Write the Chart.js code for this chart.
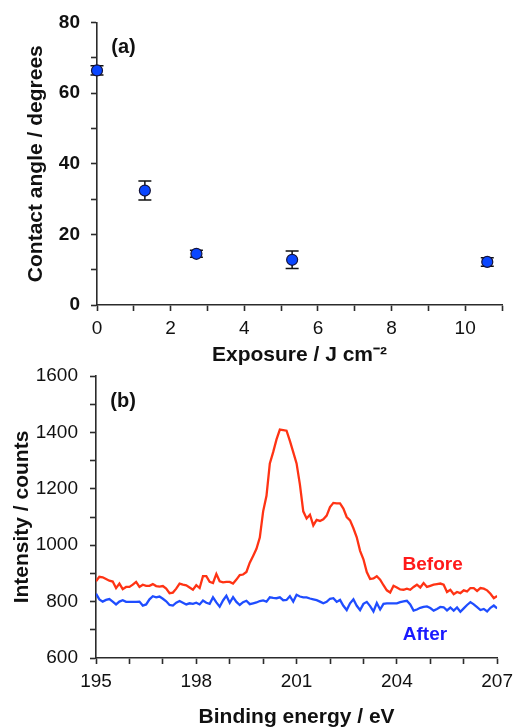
<!DOCTYPE html>
<html>
<head>
<meta charset="utf-8">
<script src="https://cdn.jsdelivr.net/npm/chart.js@4.4.1/dist/chart.umd.min.js"></script>
<style>
    html, body { margin: 0; padding: 0; background: #fff; }
    body { width: 519px; height: 728px; position: relative; overflow: hidden; }
    .panel { position: absolute; left: 0; width: 519px; }
    #panelA { top: 0; height: 370px; }
    #panelB { top: 350px; height: 378px; }
</style>
</head>
<body>
<div class="panel" id="panelA"><canvas id="angleChart"></canvas></div>
<div class="panel" id="panelB"><canvas id="xpsChart"></canvas></div>
<script>
// (a) contact angle after exposure
const exposure = [0, 1.3, 2.7, 5.3, 10.6];
const contactAngle = [66.4, 32.4, 14.5, 12.8, 12.2];
const angleError = [1.3, 2.7, 1.0, 2.5, 1.2];
const exposureLabels = [0, 2, 4, 6, 8, 10];
const angleLabels = [0, 20, 40, 60, 80];

// (b) XPS spectra, 195.0 - 207.0 eV every 0.1 eV
const energyStart = 195;
const energyStep = 0.1;
const countsBefore = [
    872, 888, 886, 880, 874, 871, 848, 864, 844, 852,
    852, 860, 870, 852, 860, 856, 856, 862, 855, 853,
    855, 846, 830, 832, 846, 864, 860, 858, 850, 842,
    858, 848, 890, 890, 870, 866, 898, 872, 868, 870,
    870, 864, 878, 894, 896, 905, 938, 962, 987, 1027,
    1120, 1175, 1290, 1330, 1375, 1410, 1408, 1406, 1370, 1330,
    1290, 1215, 1120, 1095, 1108, 1070, 1090, 1086, 1092, 1105,
    1135, 1150, 1148, 1148, 1130, 1100, 1088, 1060, 1028, 980,
    950, 905, 880, 882, 890, 878, 858, 840, 832, 856,
    850, 843, 842, 846, 842, 852, 860, 850, 866, 852,
    856, 860, 862, 864, 860, 834, 842, 826, 834, 830,
    840, 836, 848, 848, 838, 848, 846, 840, 828, 812,
    820
];
const countsAfter = [
    828, 808, 800, 806, 809, 800, 790, 800, 805, 799,
    799, 799, 799, 800, 786, 790, 808, 819, 815, 818,
    810, 801, 788, 786, 796, 802, 796, 790, 794, 792,
    796, 790, 804, 796, 792, 815, 797, 782, 804, 821,
    796, 816, 799, 788, 798, 803, 791, 794, 797, 802,
    804, 800, 815, 813, 812, 815, 805, 806, 819, 800,
    824, 818, 815, 815, 811, 808, 805, 800, 794, 799,
    810, 812, 799, 806, 785, 770, 794, 808, 785, 770,
    792, 799, 784, 765, 795, 772, 792, 794, 794, 794,
    794, 798, 801, 803, 790, 768, 772, 778, 781, 783,
    777, 768, 774, 781, 780, 769, 779, 768, 779, 764,
    776, 788, 798, 790, 780, 770, 774, 765, 778, 786,
    776
];
const energyLabels = [195, 198, 201, 204, 207];
const countLabels = [600, 800, 1000, 1200, 1400, 1600];

const FONT = '"Liberation Sans", Arial, sans-serif';
const INK = '#111';
const AXIS = '#2b2b2b';

// vertical error bars with caps, drawn under the markers
const errorBarPlugin = {
    id: 'errorBars',
    beforeDatasetsDraw(chart, args, opts) {
        const { ctx, scales: { x, y } } = chart;
        ctx.save();
        ctx.strokeStyle = opts.color;
        ctx.lineWidth = opts.width;
        exposure.forEach((e, i) => {
            const px = x.getPixelForValue(e);
            const top = y.getPixelForValue(contactAngle[i] + angleError[i]);
            const bot = y.getPixelForValue(contactAngle[i] - angleError[i]);
            ctx.beginPath();
            ctx.moveTo(px, top); ctx.lineTo(px, bot);
            ctx.moveTo(px - opts.cap, top); ctx.lineTo(px + opts.cap, top);
            ctx.moveTo(px - opts.cap, bot); ctx.lineTo(px + opts.cap, bot);
            ctx.stroke();
        });
        ctx.restore();
    }
};

// free text placed in data coordinates
const textPlugin = {
    id: 'panelText',
    afterDraw(chart, args, opts) {
        const { ctx, scales: { x, y } } = chart;
        ctx.save();
        ctx.textAlign = 'center';
        ctx.textBaseline = 'middle';
        opts.items.forEach(t => {
            ctx.font = 'bold ' + t.size + 'px ' + FONT;
            ctx.fillStyle = t.color;
            ctx.fillText(t.text, x.getPixelForValue(t.x), y.getPixelForValue(t.y));
        });
        ctx.restore();
    }
};

function axis(min, max, step, labels, opt) {
    return {
        type: 'linear',
        position: opt.position,
        min: min,
        max: max,
        border: { display: true, color: AXIS, width: 1.6 },
        grid: { drawOnChartArea: false, drawTicks: true, tickLength: 6, tickColor: AXIS, tickWidth: 1.6 },
        ticks: {
            stepSize: step,
            autoSkip: false,
            maxRotation: 0,
            padding: opt.pad,
            color: INK,
            font: { family: FONT, size: 19, weight: opt.bold ? 'bold' : 'normal' },
            callback: v => labels.includes(Math.round(v)) && Math.abs(v - Math.round(v)) < 1e-6 ? Math.round(v) : ''
        },
        title: {
            display: true,
            text: opt.title,
            color: INK,
            font: { family: FONT, size: 21, weight: 'bold', lineHeight: 1 },
            padding: opt.titlePad
        },
        afterFit: opt.fit
    };
}

document.addEventListener('DOMContentLoaded', () => {
    // Contact angle chart
    new Chart(document.getElementById('angleChart'), {
        type: 'scatter',
        data: {
            datasets: [{
                data: exposure.map((e, i) => ({ x: e, y: contactAngle[i] })),
                backgroundColor: '#0a46ff',
                borderColor: '#14143c',
                borderWidth: 1.2,
                pointRadius: 5.5,
                clip: false
            }]
        },
        options: {
            responsive: true,
            maintainAspectRatio: false,
            animation: false,
            layout: { padding: { top: 20, right: 17, left: 0, bottom: 0 } },
            scales: {
                x: axis(0, 11, 1, exposureLabels, {
                    position: 'bottom', pad: 6, title: 'Exposure / J cm\u207B\u00B2',
                    titlePad: { top: 0, bottom: 4.5 }, fit: s => { s.height = 65; }
                }),
                y: axis(0, 80, 10, angleLabels, {
                    position: 'left', pad: 11, bold: true, title: 'Contact angle / degrees',
                    titlePad: { top: 26, bottom: 0 }, fit: s => { s.width = 97; }
                })
            },
            plugins: {
                legend: { display: false },
                tooltip: { enabled: false },
                errorBars: { color: '#111', width: 1.5, cap: 6.5 },
                panelText: { items: [{ text: '(a)', x: 0.72, y: 73, size: 20, color: INK }] }
            }
        },
        plugins: [errorBarPlugin, textPlugin]
    });

    // XPS chart
    const toPoints = arr => arr.map((c, i) => ({ x: energyStart + i * energyStep, y: c }));
    new Chart(document.getElementById('xpsChart'), {
        type: 'line',
        data: {
            datasets: [
                {
                    label: 'Before',
                    data: toPoints(countsBefore),
                    borderColor: '#ff3314',
                    borderWidth: 2.3,
                    pointRadius: 0,
                    tension: 0
                },
                {
                    label: 'After',
                    data: toPoints(countsAfter),
                    borderColor: '#1f4dff',
                    borderWidth: 2.3,
                    pointRadius: 0,
                    tension: 0
                }
            ]
        },
        options: {
            responsive: true,
            maintainAspectRatio: false,
            animation: false,
            layout: { padding: { top: 26, right: 16, left: 0, bottom: 0 } },
            scales: {
                x: axis(195, 207, 1, energyLabels, {
                    position: 'bottom', pad: 6, title: 'Binding energy / eV',
                    titlePad: { top: 0, bottom: 0.5 }, fit: s => { s.height = 70; }
                }),
                y: axis(600, 1600, 100, countLabels, {
                    position: 'left', pad: 12, title: 'Intensity / counts',
                    titlePad: { top: 11.5, bottom: 0 }, fit: s => { s.width = 96; }
                })
            },
            plugins: {
                legend: { display: false },
                tooltip: { enabled: false },
                panelText: {
                    items: [
                        { text: '(b)', x: 195.81, y: 1511, size: 20, color: INK },
                        { text: 'Before', x: 205.07, y: 931, size: 19, color: '#ff1a1a' },
                        { text: 'After', x: 204.84, y: 681, size: 19, color: '#1a1aff' }
                    ]
                }
            }
        },
        plugins: [textPlugin]
    });
});
</script>
</body>
</html>
